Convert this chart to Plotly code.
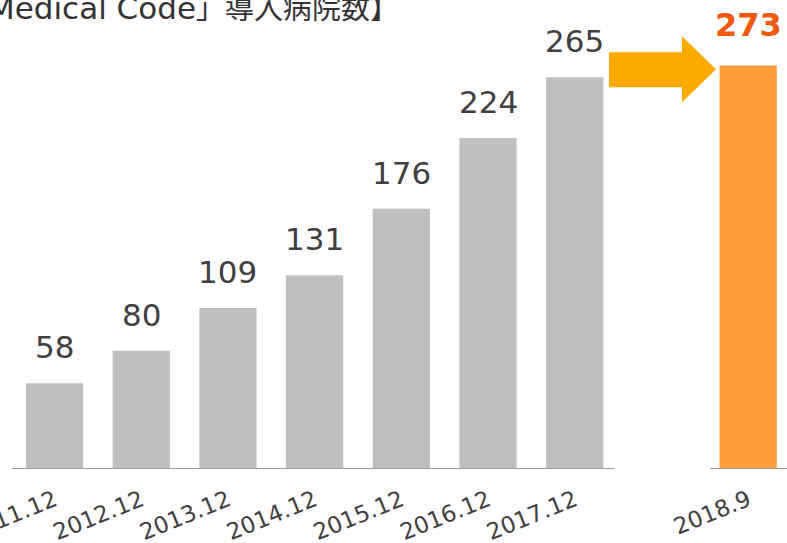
import plotly.graph_objects as go

# Data
categories = ["2011.12", "2012.12", "2013.12", "2014.12", "2015.12", "2016.12", "2017.12"]
values = [58, 80, 109, 131, 176, 224, 265]
latest_category = "2018.9"
latest_value = 273
title_latin = "Medical Code"
title_cjk = "」導入病院数】"

gray_x = list(range(len(categories)))
latest_x = len(categories) + 1  # leave a gap slot

FONT = "DejaVu Sans, Noto Sans CJK JP, sans-serif"
TXT = "#404040"

fig = go.Figure()
fig.add_trace(go.Bar(x=gray_x, y=values, width=0.66, marker_color="#BFBFBF",
                     marker_line_width=0, hoverinfo="skip"))
fig.add_trace(go.Bar(x=[latest_x], y=[latest_value], width=0.66, marker_color="#FF9E3B",
                     marker_line_width=0, hoverinfo="skip"))

annotations = []
for xv, v in zip(gray_x, values):
    annotations.append(dict(x=xv, y=v, text=str(v), showarrow=False, xref="x", yref="y",
                            yanchor="bottom", yshift=16,
                            font=dict(family=FONT, size=31, color=TXT)))
annotations.append(dict(x=latest_x, y=latest_value, text="<b>%d</b>" % latest_value,
                        showarrow=False, xref="x", yref="y", yanchor="bottom", yshift=19,
                        font=dict(family=FONT, size=32, color="#F0580A")))
annotations.append(dict(x=401 / 787, y=1, xref="paper", yref="paper", xanchor="right",
                        yanchor="top", yshift=12,
                        text='<span style="font-size:31px">%s</span>%s' % (title_latin, title_cjk),
                        showarrow=False,
                        font=dict(family=FONT, size=29, color="#333333")))

shapes = [
    dict(type="line", xref="x", yref="y", x0=-0.49, x1=6.46, y0=0, y1=0,
         line=dict(color="#999999", width=2)),
    dict(type="line", xref="x", yref="y", x0=latest_x - 0.44, x1=latest_x + 0.6, y0=0, y1=0,
         line=dict(color="#999999", width=2)),
    # arrow
    dict(type="path", xref="x", yref="y",
         path="M 6.395 282 L 7.237 282 L 7.237 292.8 L 7.629 270.4 L 7.237 248.1 L 7.237 258.3 L 6.395 258.3 Z",
         fillcolor="#FFAA00", line=dict(width=0)),
]

fig.update_layout(
    width=787, height=543,
    margin=dict(l=0, r=0, t=0, b=74),
    paper_bgcolor="white", plot_bgcolor="white",
    showlegend=False,
    annotations=annotations,
    shapes=shapes,
    xaxis=dict(range=[-0.629, 8.448], tickmode="array",
               tickvals=gray_x + [latest_x], ticktext=categories + [latest_category],
               tickangle=-22, tickfont=dict(family=FONT, size=23, color=TXT),
               ticklabeloverflow="allow", automargin=False,
               showgrid=False, zeroline=False, showline=False,
               ticks="outside", ticklen=8, tickcolor="rgba(0,0,0,0)"),
    yaxis=dict(range=[0, 317.3], visible=False, automargin=False),
)

fig.write_html("out.html", config={"displayModeBar": False},
               post_script="document.body.style.margin='0';")
